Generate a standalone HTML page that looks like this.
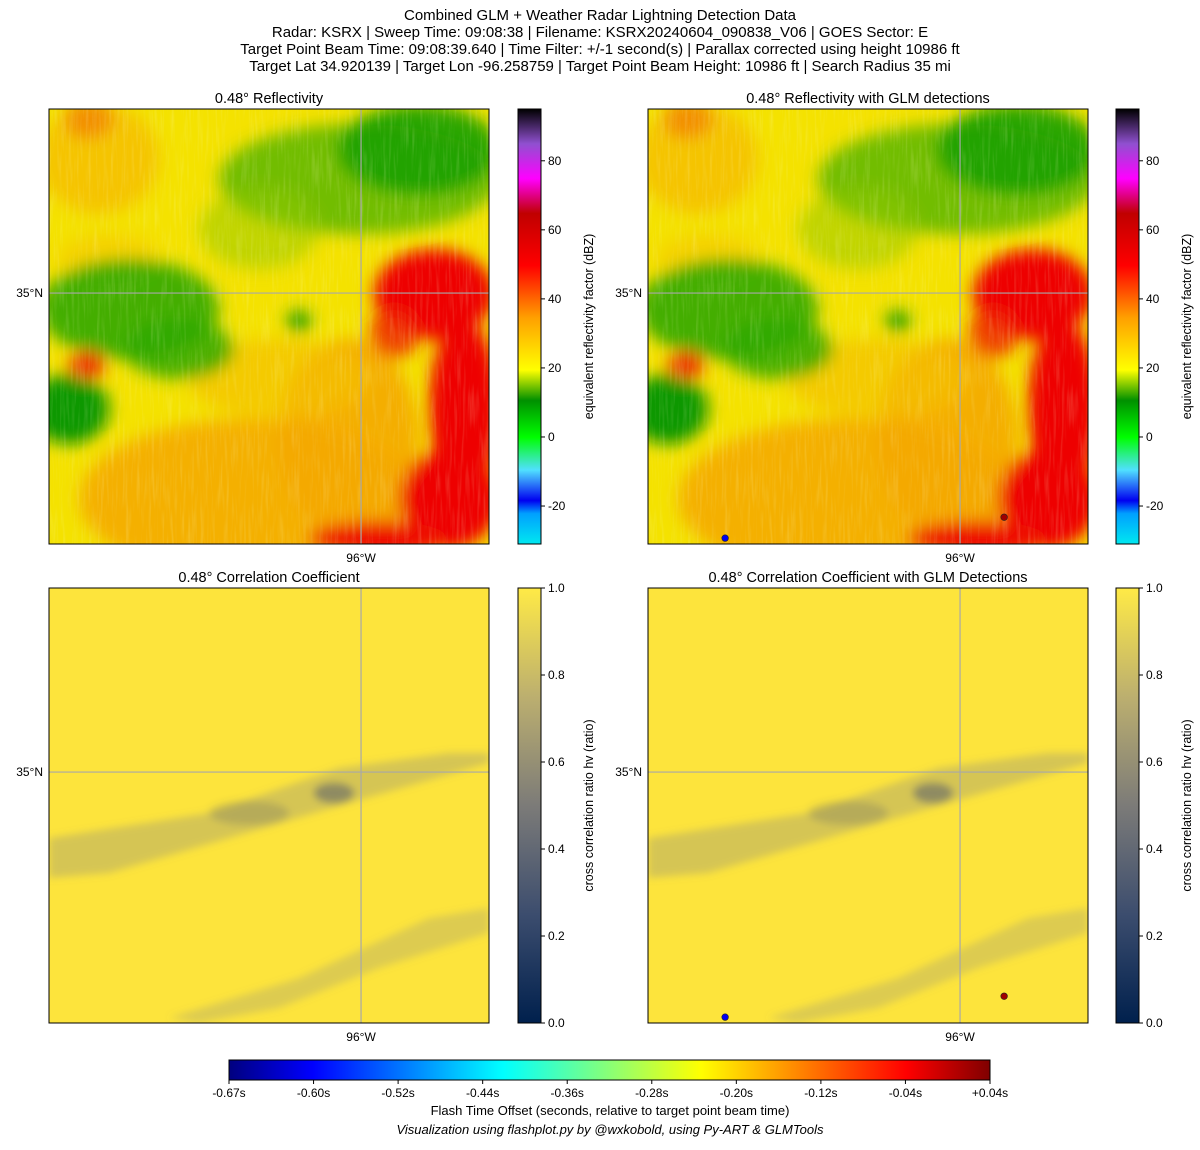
<!DOCTYPE html>
<html><head><meta charset="utf-8">
<style>
body{margin:0;background:#fff;}
svg text{font-family:"Liberation Sans","DejaVu Sans",sans-serif;fill:#000;}
</style></head>
<body>
<svg id="fig" width="1200" height="1145" viewBox="0 0 1200 1145" xmlns="http://www.w3.org/2000/svg">
<defs>
  <filter id="blur8" x="-20%" y="-20%" width="140%" height="140%"><feGaussianBlur stdDeviation="8"/></filter>
  <filter id="blur4" x="-20%" y="-20%" width="140%" height="140%"><feGaussianBlur stdDeviation="4"/></filter>
  <filter id="streaks" x="0" y="0" width="100%" height="100%">
    <feTurbulence type="fractalNoise" baseFrequency="0.35 0.025" numOctaves="2" seed="3"/>
    <feColorMatrix type="matrix" values="0 0 0 0 1  0 0 0 0 1  0 0 0 0 0.6  0 0 0 1.2 -0.55"/>
  </filter>
  <clipPath id="clipP"><rect x="0" y="0" width="440" height="435"/></clipPath>
  <g id="reflField" clip-path="url(#clipP)">
    <rect x="0" y="0" width="440" height="435" fill="#f4e200"/>
    <g filter="url(#blur8)">
      <ellipse cx="50" cy="50" rx="60" ry="55" fill="#f5b800" opacity="0.7"/>
      <ellipse cx="40" cy="10" rx="25" ry="20" fill="#f07000" opacity="0.6"/>
      <ellipse cx="60" cy="150" rx="50" ry="25" fill="#f5c800" opacity="0.6"/>
      <ellipse cx="200" cy="390" rx="170" ry="80" fill="#f4b000"/>
      <ellipse cx="300" cy="330" rx="70" ry="100" fill="#f4a800" opacity="0.9"/>
      <ellipse cx="230" cy="270" rx="90" ry="40" fill="#f4c000" opacity="0.7"/>
      <ellipse cx="310" cy="70" rx="140" ry="55" fill="#46b000" opacity="0.75"/>
      <ellipse cx="370" cy="40" rx="80" ry="45" fill="#18a000" opacity="0.9"/>
      <ellipse cx="210" cy="120" rx="60" ry="40" fill="#90c800" opacity="0.5"/>
      <ellipse cx="80" cy="200" rx="90" ry="50" fill="#30a800" opacity="0.9"/>
      <ellipse cx="130" cy="240" rx="55" ry="30" fill="#30a800" opacity="0.85"/>
      <ellipse cx="20" cy="300" rx="40" ry="35" fill="#109800"/>
      <ellipse cx="38" cy="256" rx="18" ry="14" fill="#f03000"/>
      <ellipse cx="250" cy="212" rx="12" ry="11" fill="#2aa000"/>
      <ellipse cx="385" cy="185" rx="60" ry="45" fill="#ee0000"/>
      <ellipse cx="415" cy="300" rx="35" ry="90" fill="#ee0000"/>
      <ellipse cx="400" cy="390" rx="50" ry="50" fill="#ee0000"/>
      <ellipse cx="330" cy="430" rx="70" ry="18" fill="#ee1000"/>
      <ellipse cx="345" cy="225" rx="25" ry="25" fill="#ee2000" opacity="0.8"/>
    </g>
    <rect x="0" y="0" width="440" height="435" filter="url(#streaks)" opacity="0.35"/>
  </g>
  <g id="ccField" clip-path="url(#clipP)">
    <rect x="0" y="0" width="440" height="435" fill="#fde43c"/>
    <g filter="url(#blur4)" fill="#7a7e8a">
      <polygon points="0,250 160,225 290,180 400,165 440,165 440,175 300,215 180,250 60,285 0,290" opacity="0.3"/>
      <ellipse cx="285" cy="205" rx="20" ry="10" fill="#3a4470" opacity="0.45"/>
      <ellipse cx="200" cy="225" rx="40" ry="12" fill="#3a4470" opacity="0.2"/>
      <polygon points="120,430 250,390 380,330 440,320 440,345 330,380 230,420 150,435" opacity="0.25"/>
    </g>
  </g>
  <linearGradient id="gRefl" x1="0" y1="1" x2="0" y2="0">
    <stop offset="0" stop-color="#00e8f0"/>
    <stop offset="0.07" stop-color="#00a0ff"/>
    <stop offset="0.1" stop-color="#0000f0"/>
    <stop offset="0.17" stop-color="#50e0ff"/>
    <stop offset="0.245" stop-color="#00ff00"/>
    <stop offset="0.33" stop-color="#009000"/>
    <stop offset="0.40" stop-color="#ffff00"/>
    <stop offset="0.52" stop-color="#ffa000"/>
    <stop offset="0.64" stop-color="#ff0000"/>
    <stop offset="0.76" stop-color="#c00000"/>
    <stop offset="0.84" stop-color="#ff00ff"/>
    <stop offset="0.92" stop-color="#9050d0"/>
    <stop offset="1" stop-color="#000000"/>
  </linearGradient>
  <linearGradient id="gCC" x1="0" y1="1" x2="0" y2="0">
    <stop offset="0" stop-color="#00204d"/>
    <stop offset="0.25" stop-color="#3c4d6e"/>
    <stop offset="0.5" stop-color="#7c7b78"/>
    <stop offset="0.75" stop-color="#bcaf6f"/>
    <stop offset="1" stop-color="#ffea46"/>
  </linearGradient>
  <linearGradient id="gJet" x1="0" y1="0" x2="1" y2="0">
    <stop offset="0" stop-color="#00007f"/>
    <stop offset="0.11" stop-color="#0000ff"/>
    <stop offset="0.36" stop-color="#00ffff"/>
    <stop offset="0.62" stop-color="#ffff00"/>
    <stop offset="0.89" stop-color="#ff0000"/>
    <stop offset="1" stop-color="#7f0000"/>
  </linearGradient>
</defs>

<g font-size="15" text-anchor="middle">
  <text x="600" y="20">Combined GLM + Weather Radar Lightning Detection Data</text>
  <text x="600" y="37">Radar: KSRX | Sweep Time: 09:08:38 | Filename: KSRX20240604_090838_V06 | GOES Sector: E</text>
  <text x="600" y="54">Target Point Beam Time: 09:08:39.640 | Time Filter: +/-1 second(s) | Parallax corrected using height 10986 ft</text>
  <text x="600" y="71">Target Lat 34.920139 | Target Lon -96.258759 | Target Point Beam Height: 10986 ft | Search Radius 35 mi</text>
</g>

<g id="panels"></g>
<g id="cbars"></g>
<g id="bottomBar"></g>

<text x="610" y="1115" font-size="13" text-anchor="middle">Flash Time Offset (seconds, relative to target point beam time)</text>
<text x="610" y="1134" font-size="13" font-style="italic" text-anchor="middle">Visualization using flashplot.py by @wxkobold, using Py-ART &amp; GLMTools</text>
</svg>

<script>
// ---- data ----
const lonExtent = [-96.878, -95.640];
const latExtent = [34.400, 35.440];
const lonTicks = [-96];
const latTicks = [35];
const reflTicks = [-20, 0, 20, 40, 60, 80];
const reflRange = [-31, 95];
const ccTicks = [0.0, 0.2, 0.4, 0.6, 0.8, 1.0];
const ccRange = [0, 1];
const flashLon = [-96.661, -95.876];
const flashLat = [34.414, 34.464];
const flashOffset = [-0.60, 0.02];
const offsetRange = [-0.67, 0.04];
const offsetTickLabels = ["-0.67s","-0.60s","-0.52s","-0.44s","-0.36s","-0.28s","-0.20s","-0.12s","-0.04s","+0.04s"];

const NS = "http://www.w3.org/2000/svg";
function mk(tag, attrs, parent, txt){ const e=document.createElementNS(NS,tag); for(const k in attrs) e.setAttribute(k,attrs[k]); if(txt!==undefined) e.textContent=txt; parent.appendChild(e); return e; }
const PW=440, PH=435;
function xScale(lon){ return (lon-lonExtent[0])/(lonExtent[1]-lonExtent[0])*PW; }
function yScale(lat){ return (latExtent[1]-lat)/(latExtent[1]-latExtent[0])*PH; }
function jet(t){
  const stops=[[0,[0,0,127]],[0.11,[0,0,255]],[0.36,[0,255,255]],[0.62,[255,255,0]],[0.89,[255,0,0]],[1,[127,0,0]]];
  t=Math.max(0,Math.min(1,t));
  for(let i=1;i<stops.length;i++){ if(t<=stops[i][0]){ const a=stops[i-1],b=stops[i]; const f=(t-a[0])/(b[0]-a[0]); const c=a[1].map((v,j)=>Math.round(v+(b[1][j]-v)*f)); return `rgb(${c.join(',')})`; } }
  return 'rgb(127,0,0)';
}

const panelDefs = [
  {x:49,y:109,title:"0.48° Reflectivity",field:"#reflField",dots:false,name:"reflectivity-panel"},
  {x:648,y:109,title:"0.48° Reflectivity with GLM detections",field:"#reflField",dots:true,name:"reflectivity-glm-panel"},
  {x:49,y:588,title:"0.48° Correlation Coefficient",field:"#ccField",dots:false,name:"cc-panel"},
  {x:648,y:588,title:"0.48° Correlation Coefficient with GLM Detections",field:"#ccField",dots:true,name:"cc-glm-panel"}
];
const panels=document.getElementById('panels');
panelDefs.forEach(p=>{
  const g=mk('g',{transform:`translate(${p.x},${p.y})`},panels);
  
  
  const u=mk('use',{href:p.field},g);
  
  
  lonTicks.forEach(l=>{
    const x=xScale(l);
    const ln=mk('line',{x1:x,y1:0,x2:x,y2:PH,stroke:'#a8a8a8','stroke-width':1.2},g);
    
    
    const t=mk('text',{x:x,y:PH+18,'font-size':12,'text-anchor':'middle'},g,Math.abs(l)+"°W");
    
    
  });
  latTicks.forEach(l=>{
    const y=yScale(l);
    const ln=mk('line',{x1:0,y1:y,x2:PW,y2:y,stroke:'#a8a8a8','stroke-width':1.2},g);
    
    
    const t=mk('text',{x:-6,y:y+4,'font-size':12,'text-anchor':'end'},g,l+"°N");
    
    
  });
  if(p.dots){
    flashLon.forEach((lon,i)=>{
      const c=mk('circle',{cx:xScale(lon),cy:yScale(flashLat[i]),r:3.3,fill:jet((flashOffset[i]-offsetRange[0])/(offsetRange[1]-offsetRange[0])),stroke:'#222','stroke-width':0.6},g);
      
      
    });
  }
  const fr=mk('rect',{x:0,y:0,width:PW,height:PH,fill:'none',stroke:'#000','stroke-width':1},g);
  
  
  const tt=mk('text',{x:PW/2,y:-6,'font-size':14.5,'text-anchor':'middle'},g,p.title);
  
  
});

// vertical colorbars
const cbDefs=[
  {x:518,y:109,grad:'url(#gRefl)',ticks:reflTicks,range:reflRange,label:'equivalent reflectivity factor (dBZ)',fmt:v=>String(v),name:'reflectivity-colorbar'},
  {x:1116,y:109,grad:'url(#gRefl)',ticks:reflTicks,range:reflRange,label:'equivalent reflectivity factor (dBZ)',fmt:v=>String(v),name:'reflectivity-colorbar'},
  {x:518,y:588,grad:'url(#gCC)',ticks:ccTicks,range:ccRange,label:'cross correlation ratio hv (ratio)',fmt:v=>v.toFixed(1),name:'cc-colorbar'},
  {x:1116,y:588,grad:'url(#gCC)',ticks:ccTicks,range:ccRange,label:'cross correlation ratio hv (ratio)',fmt:v=>v.toFixed(1),name:'cc-colorbar'}
];
const cbars=document.getElementById('cbars');
cbDefs.forEach(c=>{
  const g=mk('g',{transform:`translate(${c.x},${c.y})`},cbars);
  
  
  const W=23,H=435;
  const r=mk('rect',{x:0,y:0,width:W,height:H,fill:c.grad,stroke:'#000','stroke-width':1},g);
  
  
  c.ticks.forEach(v=>{
    const y=H-(v-c.range[0])/(c.range[1]-c.range[0])*H;
    mk('line',{x1:W,y1:y,x2:W+4,y2:y,stroke:'#000'},g);
    const t=mk('text',{x:W+7,y:y+4,'font-size':12},g,c.fmt(v));
    
    
  });
  const lb=mk('text',{transform:`translate(${W+52},${H/2}) rotate(-90)`,'font-size':12.5,'text-anchor':'middle'},g,c.label);
  
  
});

// bottom colorbar
const bb=document.getElementById('bottomBar');
const BX=229,BY=1060,BW=761,BH=20;
const br=mk('rect',{x:BX,y:BY,width:BW,height:BH,fill:'url(#gJet)',stroke:'#000','stroke-width':1},bb);


offsetTickLabels.forEach((lab,i)=>{
  const x=BX+i/(offsetTickLabels.length-1)*BW;
  mk('line',{x1:x,y1:BY+BH,x2:x,y2:BY+BH+4,stroke:'#000'},bb);
  const t=mk('text',{x:x,y:BY+BH+17,'font-size':12,'text-anchor':'middle'},bb,lab);
  
  
});
</script>
</body></html>
